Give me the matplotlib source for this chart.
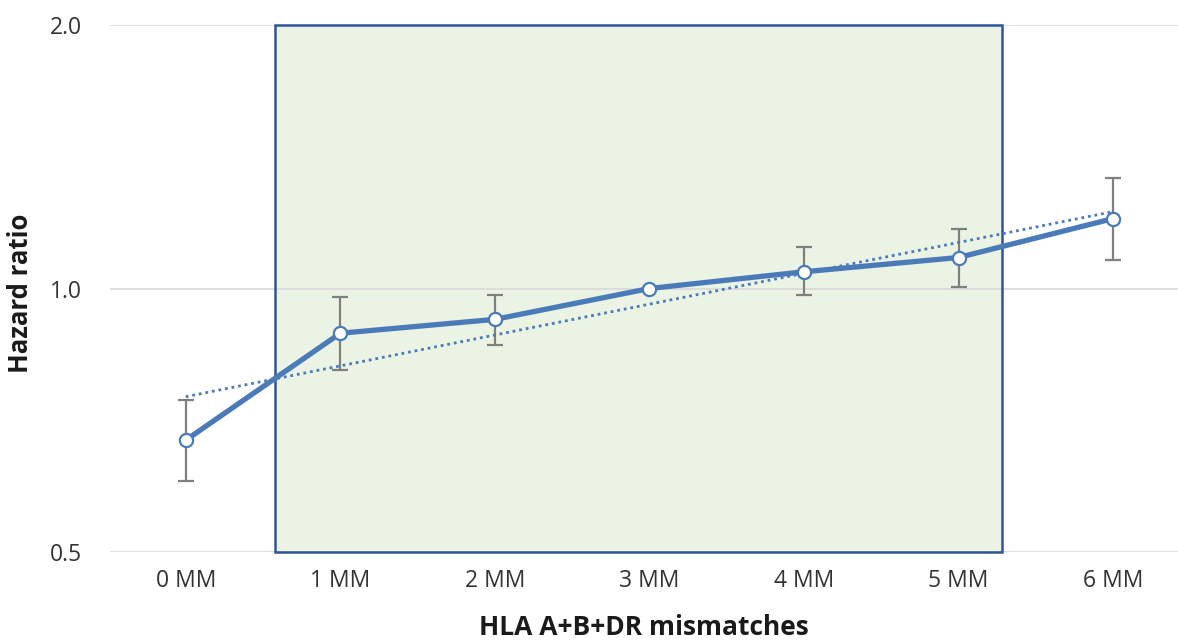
import numpy as np
import matplotlib.pyplot as plt
from matplotlib.patches import Rectangle
from matplotlib.ticker import FixedLocator, NullLocator

plt.rcParams['font.family'] = ['Open Sans', 'DejaVu Sans']

# Data (hazard ratio with 95% CI)
categories = ['0 MM', '1 MM', '2 MM', '3 MM', '4 MM', '5 MM', '6 MM']
hr = [0.671, 0.889, 0.922, 1.0, 1.045, 1.085, 1.202]
ci_low = [0.603, 0.808, 0.863, 1.0, 0.982, 1.005, 1.079]
ci_high = [0.745, 0.977, 0.984, 1.0, 1.114, 1.168, 1.338]
y_ticks = [0.5, 1.0, 2.0]

blue = '#4a7ab8'
x = np.arange(len(categories))
hr_arr = np.array(hr)

fig = plt.figure(figsize=(11.78, 6.44), dpi=100)
ax = fig.add_axes([0.0934, 0.1429, 0.9066, 0.8182])

ax.set_yscale('log')
ax.set_ylim(0.5, 2.0)
ax.set_xlim(-0.49, 6.42)

# Shaded region from 1 MM to 5 MM (fill under the gridlines, border above)
ax.add_patch(Rectangle((0.58, 0.5), 5.28 - 0.58, 1.5, facecolor='#ebf3e4',
                       edgecolor='none', zorder=1))
ax.add_patch(Rectangle((0.58, 0.5), 5.28 - 0.58, 1.5, facecolor='none',
                       edgecolor='#2f5597', linewidth=1.8, zorder=1.8,
                       clip_on=False))

# Gridlines
for t in y_ticks:
    ax.axhline(t, color='#d9d9d9', linewidth=1.2, zorder=1.5)

# Error bars
yerr = [hr_arr - np.array(ci_low), np.array(ci_high) - hr_arr]
ax.errorbar(x, hr, yerr=yerr, fmt='none', ecolor='#7f7f7f', elinewidth=1.6,
            capsize=6, capthick=1.6, zorder=2)

# Trend line (exponential fit, straight on log axis)
coef = np.polyfit(x, np.log(hr_arr), 1)
ax.plot(x, np.exp(np.polyval(coef, x)), linestyle=(0, (1, 1.4)), color=blue,
        linewidth=2, zorder=3)

# Main series
ax.plot(x, hr, color=blue, linewidth=3.8, marker='o', markersize=9.5,
        markerfacecolor='white', markeredgecolor=blue, markeredgewidth=1.6,
        zorder=4)

ax.yaxis.set_major_locator(FixedLocator(y_ticks))
ax.yaxis.set_minor_locator(NullLocator())
ax.set_yticklabels(['0.5', '1.0', '2.0'])
ax.set_xticks(x)
ax.set_xticklabels(categories)
ax.tick_params(axis='both', length=0, labelsize=16.5, colors='#333333')
ax.tick_params(axis='y', pad=20)
ax.tick_params(axis='x', pad=12)

for s in ax.spines.values():
    s.set_visible(False)

ax.set_xlabel('HLA A+B+DR mismatches', fontsize=19, fontweight='bold',
              color='#1a1a1a')
ax.set_ylabel('Hazard ratio', fontsize=18.5, fontweight='bold', color='#1a1a1a')
ax.xaxis.set_label_coords(0.5, -0.118)
ax.yaxis.set_label_coords(-0.071, 0.49)

fig.savefig('out.png', dpi=100)
